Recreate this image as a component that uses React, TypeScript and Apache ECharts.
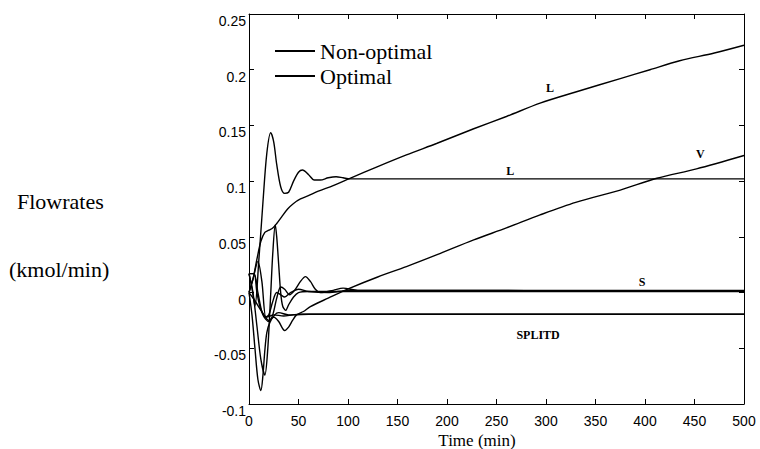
import React, { useEffect, useRef } from "react";
import * as echarts from "echarts";

// Time (min) vs flowrate (kmol/min) pairs
const lNonOptimal: [number, number][] = [
  [0, 0.0], [4, 0.012], [8, 0.03], [12, 0.046], [16, 0.054], [20, 0.056], [24, 0.058],
  [28, 0.062], [33, 0.068], [39, 0.075], [45, 0.08], [52, 0.084], [60, 0.087], [70, 0.091],
  [85, 0.096], [102, 0.1025], [130, 0.113], [159, 0.1235], [190, 0.134], [227, 0.147],
  [260, 0.158], [294, 0.17], [330, 0.18], [375, 0.192], [405, 0.2], [435, 0.208],
  [470, 0.215], [500, 0.222],
];
const lOptimal: [number, number][] = [
  [0, 0.017], [3, 0.004], [6, -0.012], [10, 0.03], [14, 0.08], [18, 0.125], [22, 0.1435],
  [25, 0.135], [28, 0.115], [32, 0.095], [36, 0.089], [40, 0.09], [45, 0.1], [50, 0.108],
  [54, 0.11], [60, 0.106], [66, 0.101], [72, 0.101], [80, 0.103], [88, 0.104], [95, 0.103],
  [102, 0.102], [150, 0.102], [500, 0.102],
];
const vNonOptimal: [number, number][] = [
  [0, 0.0], [5, -0.006], [10, -0.013], [15, -0.02], [20, -0.025], [25, -0.022], [30, -0.026],
  [36, -0.034], [40, -0.031], [44, -0.025], [48, -0.02], [55, -0.017], [62, -0.0126],
  [80, -0.005], [102, 0.004], [130, 0.014], [159, 0.0233], [190, 0.034], [227, 0.0473],
  [260, 0.058], [294, 0.0697], [330, 0.081], [375, 0.092], [412, 0.1026], [452, 0.111],
  [500, 0.123],
];
const vOptimal: [number, number][] = [
  [0, 0.017], [4, 0.0], [8, -0.03], [12, -0.06], [16, -0.074], [19, -0.05], [22, 0.0],
  [24, 0.035], [26.5, 0.061], [28, 0.05], [30, 0.025], [32, 0.0], [34, -0.012], [37, -0.016],
  [40, -0.011], [45, -0.004], [50, 0.0], [60, 0.001], [500, 0.001],
];
const sNonOptimal: [number, number][] = [
  [0, 0.0], [4, 0.012], [9, 0.028], [13, 0.01], [17, -0.022], [20, -0.02], [24, -0.008],
  [28, 0.0], [32, -0.002], [36, -0.004], [42, 0.0], [50, 0.003], [60, 0.001], [80, 0.0],
  [100, 0.002], [500, 0.002],
];
const sOptimal: [number, number][] = [
  [0, 0.017], [5, 0.017], [9, 0.0], [14, -0.02], [20, -0.026], [24, -0.02], [28, -0.005],
  [32, 0.005], [36, 0.003], [41, -0.002], [46, 0.002], [52, 0.01], [57, 0.0143], [62, 0.01],
  [67, 0.003], [72, 0.0], [85, 0.002], [95, 0.004], [110, 0.002], [500, 0.0017],
];
const splitdNonOptimal: [number, number][] = [
  [0, 0.017], [5, 0.017], [8, 0.0], [12, -0.015], [18, -0.022], [25, -0.02], [35, -0.021],
  [45, -0.02], [60, -0.0195], [500, -0.0194],
];
const splitdOptimal: [number, number][] = [
  [0, 0.0], [3, -0.02], [6, -0.05], [9, -0.078], [12, -0.088], [14, -0.075], [16, -0.052],
  [18, -0.036], [21, -0.027], [26, -0.02], [30, -0.018], [40, -0.02], [52, -0.0195],
  [500, -0.0195],
];

// Curve annotations (name, time, flowrate)
const curveLabels: [string, number, number][] = [
  ["L", 304, 0.1836],
  ["L", 264, 0.1092],
  ["V", 456, 0.1244],
  ["S", 397, 0.0096],
  ["SPLITD", 292, -0.038],
];

const legendNames = ["Non-optimal", "Optimal"];
const xTickStep = 50;
const yTickStep = 0.05;

const SERIF = "Liberation Serif";
const SANS = "Liberation Sans";

export default function App() {
  const ref = useRef<HTMLDivElement>(null);
  useEffect(() => {
    if (!ref.current) return;
    const chart = echarts.init(ref.current, null, { renderer: "svg" });
    const mkLine = (name: string, data: [number, number][], extra: any = {}) => ({
      type: "line",
      name,
      data,
      symbol: "none",
      smooth: 0.3,
      lineStyle: { color: "#000", width: 1.4 },
      itemStyle: { color: "#000" },
      silent: true,
      ...extra,
    });
    const axisCommon = {
      type: "value",
      axisLine: { show: true, onZero: false, lineStyle: { color: "#000", width: 1 } },
      axisTick: { show: true, inside: true, length: 5, lineStyle: { color: "#000" } },
      splitLine: { show: false },
    };
    chart.setOption({
      animation: false,
      backgroundColor: "#fff",
      grid: { left: 249, right: 16, top: 14, bottom: 45 },
      legend: {
        data: legendNames.map((n) => ({ name: n, icon: "rect" })),
        orient: "vertical",
        left: 270,
        top: 35,
        itemWidth: 40,
        itemHeight: 2,
        itemGap: 3,
        selectedMode: false,
        itemStyle: { color: "#000" },
        textStyle: { fontFamily: SERIF, fontSize: 22, color: "#000" },
      },
      xAxis: [
        {
          ...axisCommon,
          position: "bottom",
          min: 0,
          max: 500,
          interval: xTickStep,
          axisLabel: { color: "#000", fontFamily: SANS, fontSize: 14, margin: 10 },
        },
        {
          ...axisCommon,
          position: "top",
          min: 0,
          max: 500,
          interval: xTickStep,
          axisLabel: { show: false },
        },
      ],
      yAxis: [
        {
          ...axisCommon,
          position: "left",
          min: -0.1,
          max: 0.25,
          interval: yTickStep,
          axisLabel: {
            color: "#000",
            fontFamily: SANS,
            fontSize: 14,
            margin: 3,
            verticalAlign: "top",
          },
        },
        {
          ...axisCommon,
          position: "right",
          min: -0.1,
          max: 0.25,
          interval: yTickStep,
          axisLabel: { show: false },
        },
      ],
      series: [
        mkLine("Non-optimal", lNonOptimal, {
          markPoint: {
            symbol: "circle",
            symbolSize: 1,
            itemStyle: { color: "rgba(0,0,0,0)" },
            label: {
              show: true,
              position: "inside",
              color: "#000",
              fontFamily: SERIF,
              fontWeight: "bold",
              fontSize: 12,
              formatter: (p: any) => p.name,
            },
            data: curveLabels.map(([n, t, v]) => ({ name: n, coord: [t, v] })),
          },
        }),
        mkLine("Optimal", lOptimal),
        mkLine("Non-optimal", vNonOptimal),
        mkLine("Optimal", vOptimal),
        mkLine("Non-optimal", sNonOptimal),
        mkLine("Optimal", sOptimal),
        mkLine("Non-optimal", splitdNonOptimal),
        mkLine("Optimal", splitdOptimal),
      ],
      graphic: [
        {
          type: "text",
          left: 17,
          top: 190,
          style: { text: "Flowrates", font: `22px ${SERIF}`, fill: "#000" },
        },
        {
          type: "text",
          left: 9,
          top: 258,
          style: { text: "(kmol/min)", font: `22px ${SERIF}`, fill: "#000" },
        },
        {
          type: "text",
          x: 477,
          y: 440,
          style: {
            text: "Time (min)",
            font: `17px ${SERIF}`,
            fill: "#000",
            align: "center",
            verticalAlign: "middle",
          },
        },
      ],
    });
    return () => chart.dispose();
  }, []);
  return (
    <div
      ref={ref}
      style={{ position: "fixed", left: 0, top: 0, width: 760, height: 449, background: "#fff" }}
    />
  );
}
